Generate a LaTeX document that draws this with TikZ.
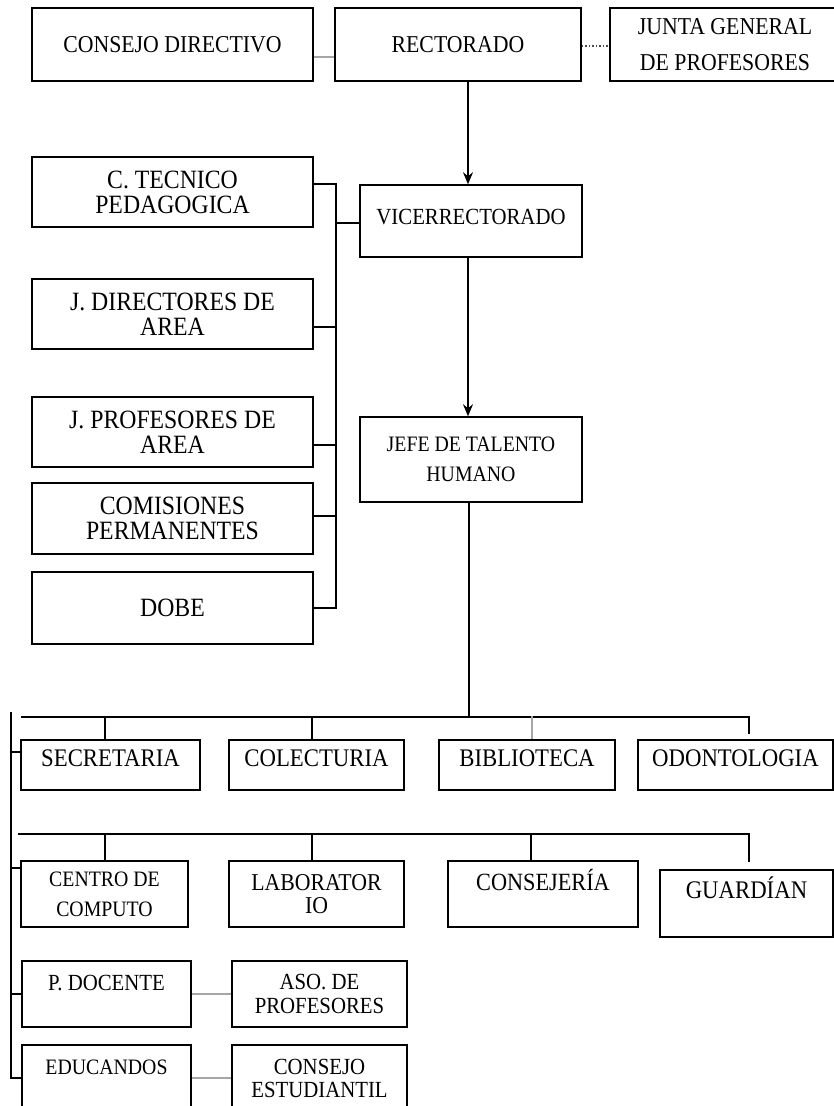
\documentclass[tikz,border=0pt]{standalone}
\usepackage{fontspec}
\setmainfont{Liberation Serif}[FakeStretch=0.9]
\usetikzlibrary{arrows.meta}
\tikzstyle{caja} = [draw=black, line width=1.5pt, rectangle, inner sep=0pt, align=center]
\tikzstyle{arrow} = [line width=1.5pt, -{Stealth[length=12pt,width=10pt]}]
\tikzstyle{linea} = [line width=1.5pt]
\tikzstyle{gris} = [line width=2pt, draw=gray!70]

\begin{document}
\begin{tikzpicture}[x=1pt, y=-1pt]
    \useasboundingbox (0,0) rectangle (834,1106);

    % fila superior
    \node[caja, minimum width=281, minimum height=73, font=\fontsize{24.2}{26}\selectfont] (consejo) at (172.5,44.5) {CONSEJO DIRECTIVO};
    \node[caja, minimum width=246, minimum height=73, font=\fontsize{24.2}{26}\selectfont] (rectorado) at (458,44.5) {RECTORADO};
    \node[caja, minimum width=230, minimum height=73, font=\fontsize{24.2}{36}\selectfont] (junta) at (725,44.5) {JUNTA GENERAL\\DE PROFESORES};

    % columna izquierda
    \node[caja, minimum width=281, minimum height=70, font=\fontsize{26.4}{25}\selectfont] (tecnico) at (172.5,192) {C. TECNICO\\PEDAGOGICA};
    \node[caja, minimum width=281, minimum height=70, font=\fontsize{26.4}{25}\selectfont] (directores) at (172.5,314) {J. DIRECTORES DE\\AREA};
    \node[caja, minimum width=281, minimum height=70, font=\fontsize{26.4}{25}\selectfont] (profesores) at (172.5,432) {J. PROFESORES DE\\AREA};
    \node[caja, minimum width=281, minimum height=71, font=\fontsize{26.4}{25}\selectfont] (comisiones) at (172.5,518.5) {COMISIONES\\PERMANENTES};
    \node[caja, minimum width=281, minimum height=72, font=\fontsize{26.4}{25}\selectfont] (dobe) at (172.5,608) {DOBE};

    \node[caja, minimum width=222, minimum height=72, font=\fontsize{23.1}{25}\selectfont, text height=15pt, text depth=8pt] (vice) at (471,221) {VICERRECTORADO};
    \node[caja, minimum width=222, minimum height=85, font=\fontsize{22}{30}\selectfont] (jefe) at (471,459.5) {JEFE DE TALENTO\\HUMANO};

    % primera fila de departamentos
    \node[caja, minimum width=179, minimum height=50, font=\fontsize{25.3}{26}\selectfont, text height=17pt, text depth=14pt] (secretaria) at (110.5,765) {SECRETARIA};
    \node[caja, minimum width=175, minimum height=50, font=\fontsize{25.3}{26}\selectfont, text height=17pt, text depth=14pt] (colecturia) at (316.5,765) {COLECTURIA};
    \node[caja, minimum width=176, minimum height=50, font=\fontsize{25.3}{26}\selectfont, text height=17pt, text depth=14pt] (biblioteca) at (527,765) {BIBLIOTECA};
    \node[caja, minimum width=195, minimum height=50, font=\fontsize{25.3}{26}\selectfont, text height=17pt, text depth=14pt] (odontologia) at (735.5,765) {ODONTOLOGIA};

    % segunda fila
    \node[caja, minimum width=167, minimum height=66, font=\fontsize{22}{30}\selectfont] (centro) at (104.5,894) {CENTRO DE\\COMPUTO};
    \node[caja, minimum width=175, minimum height=66, font=\fontsize{24.2}{23}\selectfont] (laboratorio) at (316.5,894) {LABORATOR\\IO};
    \node[caja, minimum width=190, minimum height=66, font=\fontsize{24.75}{26}\selectfont, text height=16.5pt, text depth=24pt] (consejeria) at (543,894) {CONSEJERÍA};
    \node[caja, minimum width=173, minimum height=67, font=\fontsize{25.3}{26}\selectfont, text height=17pt, text depth=27pt] (guardian) at (746.5,903.5) {GUARDÍAN};

    % docentes y educandos
    \node[caja, minimum width=169, minimum height=66, font=\fontsize{23.1}{24}\selectfont, text height=15pt, text depth=22pt] (docente) at (106.5,994) {P. DOCENTE};
    \node[caja, minimum width=175, minimum height=66, font=\fontsize{23.1}{24}\selectfont] (aso) at (319.5,994) {ASO. DE\\PROFESORES};
    \node[caja, minimum width=169, minimum height=66, font=\fontsize{22}{24}\selectfont, text height=15pt, text depth=22pt] (educandos) at (106.5,1078) {EDUCANDOS};
    \node[caja, minimum width=175, minimum height=66, font=\fontsize{23.1}{23}\selectfont] (estudiantil) at (319.5,1078) {CONSEJO\\ESTUDIANTIL};

    % conexiones de arriba
    \draw[gris] ([yshift=-12.5pt]consejo.east) -- ([yshift=-12.5pt]rectorado.west);
    \draw[dotted, line width=1.5pt, gray!60!black] ([yshift=-1.5pt]rectorado.east) -- ([yshift=-1.5pt]junta.west);
    \draw[arrow] ([xshift=10pt]rectorado.south) -- ([xshift=-3pt]vice.north);
    \draw[arrow] ([xshift=-3pt]vice.south) -- ([xshift=-3pt]jefe.north);

    % barra de la columna izquierda
    \coordinate (barra) at (336,184);
    \draw[linea] ([yshift=8pt]tecnico.east) -- (barra) -- (barra |- dobe.east) -- (dobe.east);
    \draw[linea] ([yshift=-2pt]vice.west) -- ++(-24,0);
    \draw[linea] ([yshift=-13pt]directores.east) -- ++(23,0);
    \draw[linea] ([yshift=-13pt]profesores.east) -- ++(23,0);
    \draw[linea] ([yshift=2.5pt]comisiones.east) -- ++(23,0);

    % primera barra horizontal
    \coordinate (bus1) at (21,717);
    \coordinate (bus1 fin) at (749,717);
    \draw[linea] ([xshift=-2pt]jefe.south) -- ++(0,215);
    \draw[linea] (bus1) -- (bus1 fin) -- ++(0,17);
    \draw[linea] ([xshift=-5.5pt]secretaria.north) -- ++(0,-23);
    \draw[linea] ([xshift=-4.5pt]colecturia.north) -- ++(0,-23);
    \draw[gris] ([xshift=5pt]biblioteca.north) -- ++(0,-23);

    % segunda barra horizontal
    \coordinate (bus2) at (18,834);
    \coordinate (bus2 fin) at (749,834);
    \draw[linea] (bus2) -- (bus2 fin) -- ++(0,28);
    \draw[linea] ([xshift=0.5pt]centro.north) -- ++(0,-27);
    \draw[linea] ([xshift=-4.5pt]laboratorio.north) -- ++(0,-27);
    \draw[linea] ([xshift=-12pt]consejeria.north) -- ++(0,-27);

    % linea vertical izquierda
    \coordinate (lado) at (11,712);
    \draw[linea] (lado) |- (educandos.west);
    \draw[linea] ([yshift=13pt]secretaria.west) -- ++(-10,0);
    \draw[linea] ([yshift=26pt]centro.west) -- ++(-10,0);
    \draw[linea] (docente.west) -- ++(-11,0);

    \draw[gris] (docente) -- (aso);
    \draw[gris] (educandos) -- (estudiantil);
\end{tikzpicture}
\end{document}
